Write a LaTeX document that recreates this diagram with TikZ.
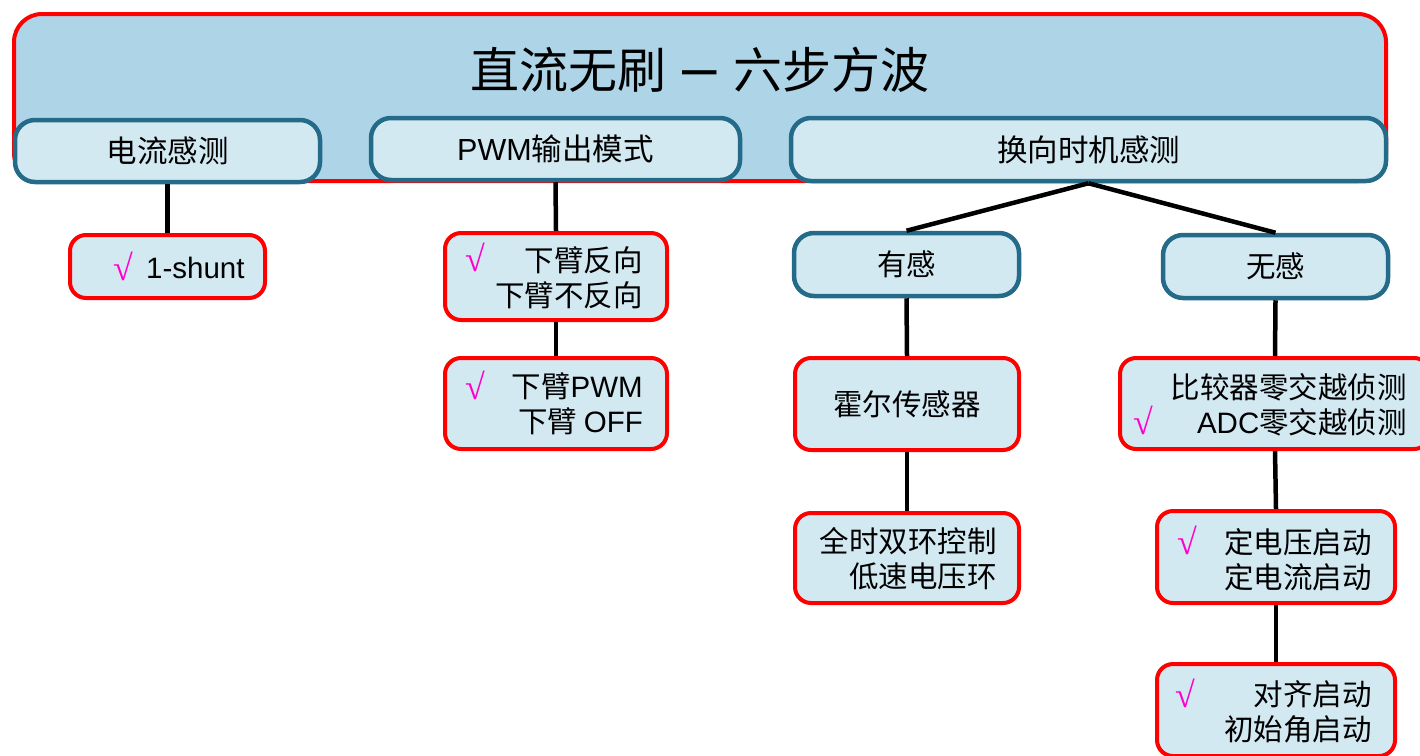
\documentclass[tikz,border=0pt]{standalone}
\usepackage{fontspec}
\setmainfont{Noto Sans CJK SC}
\newfontfamily\chkfont{Liberation Serif}
\newfontfamily\latfont{Liberation Sans}
\newcommand{\lat}[1]{{\latfont #1}}
\definecolor{topfill}{RGB}{173,213,231}
\definecolor{boxfill}{RGB}{211,233,242}
\definecolor{boxblue}{RGB}{36,107,138}
\definecolor{chk}{RGB}{255,0,204}
\begin{document}
\begin{tikzpicture}[x=1pt,y=-1pt,
  topbox/.style={draw=red, fill=topfill, line width=4pt, rounded corners=28pt, inner sep=0pt},
  bluebox/.style={draw=boxblue, fill=boxfill, line width=4.5pt, rounded corners=20pt, inner sep=0pt, font=\fontsize{30.5}{34}\selectfont},
  redbox/.style={draw=red, fill=boxfill, line width=4pt, rounded corners=16pt, inner sep=0pt, font=\fontsize{29.5}{34}\selectfont},
  lbl/.style={anchor=east, align=right, inner sep=0pt, font=\fontsize{29.5}{35}\selectfont},
  chkmark/.style={text=chk, inner sep=0pt, font=\chkfont\bfseries\fontsize{36}{36}\selectfont},
  link/.style={line width=4.5pt, black}
]
\useasboundingbox (0,0) rectangle (1420,755);
\clip (0,0) rectangle (1420,755);
\fill[white] (0,0) rectangle (1420,755);

% top box
\node[topbox, minimum width=1372pt, minimum height=167pt] (top) at (700,97.5) {};
\node[inner sep=0pt, font=\fontsize{49}{49}\selectfont] (title) at (700,70) {直流无刷\hspace{16pt}{\latfont\fontsize{62}{62}\selectfont –}\hspace{16pt}六步方波};

% level 1
\node[bluebox, minimum width=305pt, minimum height=62pt] (cur) at (167.5,151) {电流感测};
\node[bluebox, minimum width=369pt, minimum height=62pt] (pwm) at (555.5,149) {\lat{PWM}输出模式};
\node[bluebox, minimum width=595pt, minimum height=63pt] (hx) at (1088.5,149.5) {换向时机感测};

% current branch
\node[redbox, minimum width=195pt, minimum height=63pt] (shunt) at (167.5,266.5) {};
\node[chkmark] (c1) at (123,266) {√};
\node[lbl, anchor=west] (t1) at (146,268) {\lat{1-shunt}};

% PWM branch
\node[redbox, minimum width=222pt, minimum height=87pt] (fx) at (556,276.5) {};
\node[lbl] (t2) at (643,277.5) {下臂反向\\下臂不反向};
\node[chkmark] (c2) at (475,257) {√};

\node[redbox, minimum width=222pt, minimum height=91pt] (off) at (556,403.5) {};
\node[lbl] (t3) at (643,404) {下臂\lat{PWM}\\下臂 \lat{OFF}};
\node[chkmark] (c3) at (475,385) {√};

% sensored
\node[bluebox, minimum width=225pt, minimum height=63pt, font=\fontsize{29.5}{34}\selectfont] (yg) at (906.5,264.5) {有感};
\node[redbox, minimum width=224pt, minimum height=92pt] (hall) at (907,404) {霍尔传感器};
\node[redbox, minimum width=224pt, minimum height=90pt] (loop) at (907,558) {};
\node[lbl] (t4) at (997,558.5) {全时双环控制\\低速电压环};

% sensorless
\node[bluebox, minimum width=225pt, minimum height=63pt, font=\fontsize{29.5}{34}\selectfont] (wg) at (1275.5,266.5) {无感};
\node[redbox, minimum width=310pt, minimum height=91pt] (zc) at (1275,403.5) {};
\node[lbl] (t5) at (1407,404.5) {比较器零交越侦测\\\lat{ADC}零交越侦测};
\node[chkmark] (c5) at (1143,420) {√};

\node[redbox, minimum width=238pt, minimum height=92pt] (st) at (1276,557) {};
\node[lbl] (t6) at (1372,559.5) {定电压启动\\定电流启动};
\node[chkmark] (c6) at (1187,540) {√};

\node[redbox, minimum width=238pt, minimum height=92pt] (al) at (1276,710) {};
\node[lbl] (t7) at (1372,711.5) {对齐启动\\初始角启动};
\node[chkmark] (c7) at (1185,693) {√};

% connectors
\draw[link] (cur.south) -- (shunt.north);
\draw[link] (pwm.south) -- (fx.north);
\draw[link] (fx.south) -- (off.north);
\draw[link] (hx.south) -- (yg.north);
\draw[link] (hx.south) -- (wg.north);
\draw[link] (yg.south) -- (hall.north);
\draw[link] (hall.south) -- (loop.north);
\draw[link] (wg.south) -- (zc.north);
\draw[link] (zc.south) -- (st.north);
\draw[link] (st.south) -- (al.north);
\end{tikzpicture}
\end{document}
